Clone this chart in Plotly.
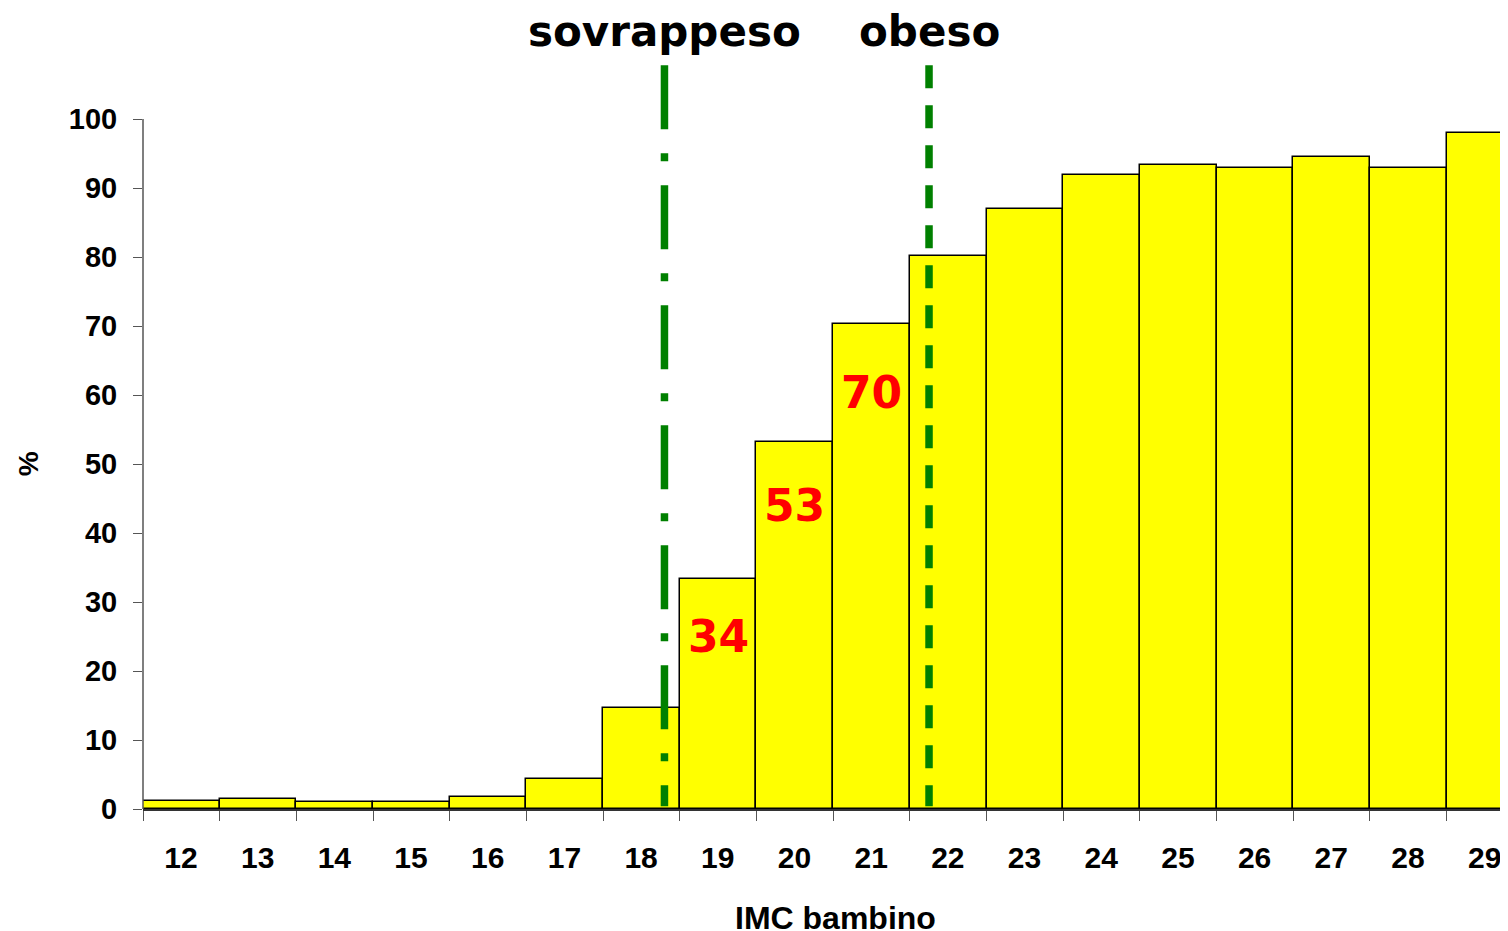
import plotly.graph_objects as go

# IMC bambino -> percentuale
imc = [12, 13, 14, 15, 16, 17, 18, 19, 20, 21, 22, 23, 24, 25, 26, 27, 28, 29]
perc = [1.2, 1.4, 1.0, 1.0, 1.7, 4.3, 14.7, 33.3, 53.2, 70.3, 80.1, 87.0, 91.9, 93.3, 92.9, 94.5, 92.9, 98.0]
y_ticks = [0, 10, 20, 30, 40, 50, 60, 70, 80, 90, 100]

# soglie e etichette rosse
cutoffs = [("sovrappeso", 18.3, "64px,24px,8px,24px"), ("obeso", 21.75, "23px,17px")]
red_labels = [(19, 25, "34"), (20, 44, "53"), (21, 60.3, "70")]

tick_font = dict(family="Liberation Sans", size=30, color="black", weight="bold")

fig = go.Figure()

fig.add_trace(go.Bar(
    x=imc,
    y=perc,
    width=1,
    marker=dict(color="#ffff00", line=dict(color="black", width=1.5)),
    hoverinfo="x+y",
))

# ticks at bar boundaries, labels shifted to bar centres
boundaries = [v - 0.5 for v in imc]
fig.update_xaxes(
    range=[11.5, 29.3],
    tickvals=boundaries,
    ticktext=[str(v) for v in imc],
    ticklabelshift=38,
    ticklabelstandoff=11,
    ticks="outside",
    ticklen=10,
    tickcolor="#555",
    showline=True,
    linecolor="#333",
    linewidth=1.5,
    showgrid=False,
    zeroline=False,
    automargin=False,
    tickfont=tick_font,
)

fig.update_yaxes(
    range=[0, 108.55],
    tickvals=y_ticks,
    ticks="outside",
    ticklen=9,
    tickcolor="#555",
    ticklabelstandoff=10,
    showline=False,
    showgrid=False,
    zeroline=False,
    automargin=False,
    tickfont=dict(family="Liberation Sans", size=29, color="black", weight="bold"),
)

# axis titles placed like the original
fig.add_annotation(x=20.53, y=-0.1456, xref="x", yref="paper", text="IMC bambino", showarrow=False,
                   xanchor="center", yanchor="middle",
                   font=dict(family="Liberation Sans", size=32, color="black", weight="bold"))
fig.add_annotation(x=-0.084, y=50, xref="paper", yref="y", text="%", textangle=-90, showarrow=False,
                   xanchor="center", yanchor="middle",
                   font=dict(family="Liberation Sans", size=28, color="black", weight="bold"))

# y axis line only up to 100
fig.add_shape(type="line", xref="paper", yref="y", x0=0, x1=0, y0=0, y1=100,
              line=dict(color="#555", width=1.5))

for name, xc, dash in cutoffs:
    fig.add_shape(type="line", xref="x", yref="y", x0=xc, x1=xc, y0=107.8, y1=0.4,
                  line=dict(color="#008000", width=7.5, dash=dash), layer="above")
    fig.add_annotation(x=xc, y=1.0374, xref="x", yref="paper", text=name, showarrow=False,
                       xanchor="center", yanchor="middle",
                       font=dict(family="DejaVu Sans", size=42, color="black", weight="bold"))

for xc, yc, txt in red_labels:
    fig.add_annotation(x=xc, y=yc, text=txt, showarrow=False, xanchor="center", yanchor="middle",
                       font=dict(family="DejaVu Sans", size=44, color="#ff0000", weight="bold"))

# page body has an 8px margin, so the figure is sized to end at the window edge
fig.update_layout(
    width=1500,
    height=923,
    margin=dict(l=135, r=0, t=52, b=122),
    plot_bgcolor="white",
    paper_bgcolor="white",
    showlegend=False,
    bargap=0,
)

fig.write_html("out.html")
